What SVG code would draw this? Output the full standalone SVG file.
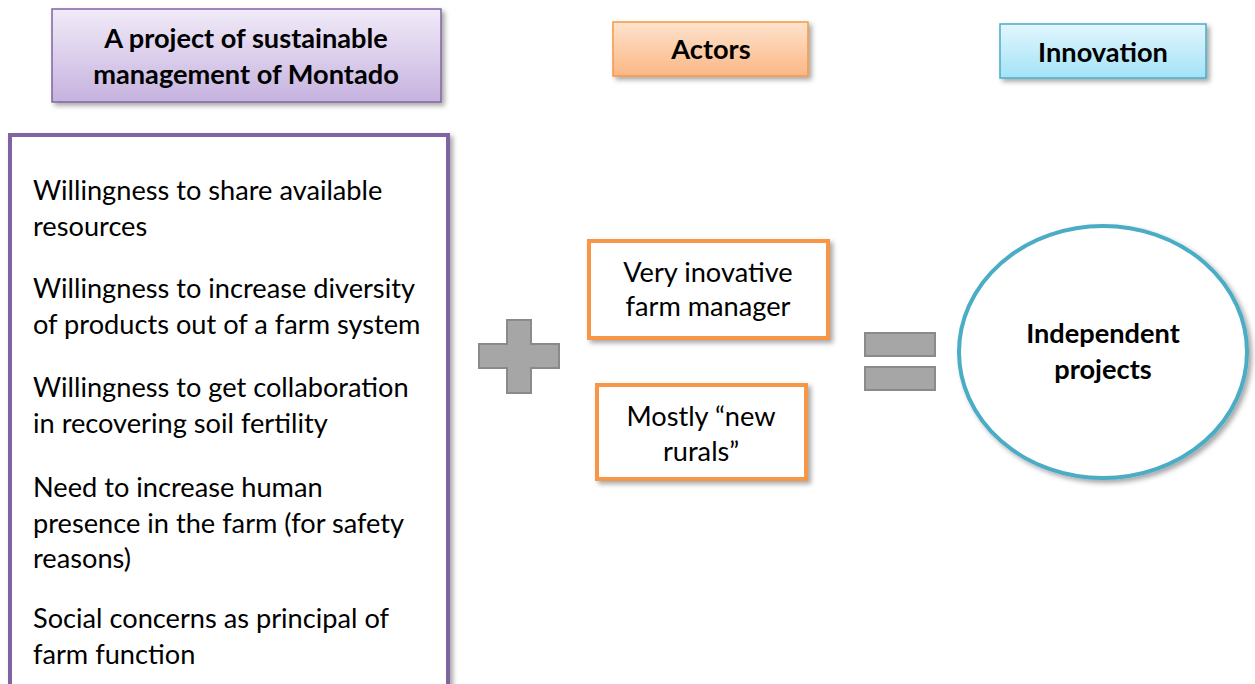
<svg xmlns="http://www.w3.org/2000/svg" width="1255" height="684" viewBox="0 0 1255 684">
<style>
.t{font-family:Lato,"Open Sans","Liberation Sans",sans-serif;font-size:27.2px;fill:#000}
.b{font-weight:bold}
.m{text-anchor:middle}
.op{fill:#a6a6a6;stroke:#8a8a8a;stroke-width:2}
</style>
<defs>
<filter id="sh" x="-10%" y="-10%" width="125%" height="125%">
<feDropShadow dx="3" dy="3" stdDeviation="2.5" flood-color="#000" flood-opacity="0.35"/>
</filter>
<linearGradient id="gp" x1="0" y1="0" x2="0" y2="1"><stop offset="0" stop-color="#f1ebf8"/><stop offset="1" stop-color="#c6b2df"/></linearGradient>
<linearGradient id="go" x1="0" y1="0" x2="0" y2="1"><stop offset="0" stop-color="#fee3cd"/><stop offset="1" stop-color="#fbb785"/></linearGradient>
<linearGradient id="gb" x1="0" y1="0" x2="0" y2="1"><stop offset="0" stop-color="#e2f6fd"/><stop offset="1" stop-color="#a3e3f8"/></linearGradient>
</defs>
<rect width="1255" height="684" fill="#fff"/>
<g id="title">
<rect x="52" y="9" width="389" height="93" fill="url(#gp)" stroke="#8064a2" stroke-width="1.5" filter="url(#sh)"/>
<text class="t b m" x="246" y="48">A project of sustainable</text>
<text class="t b m" x="246" y="84">management of Montado</text>
</g>
<g id="list">
<rect x="10" y="135" width="438" height="570" fill="#fff" stroke="#8064a2" stroke-width="4" filter="url(#sh)"/>
<text class="t" x="33" y="200">Willingness to share available</text>
<text class="t" x="33" y="236">resources</text>
<text class="t" x="33" y="298">Willingness to increase diversity</text>
<text class="t" x="33" y="334">of products out of a farm system</text>
<text class="t" x="33" y="397">Willingness to get collaboration</text>
<text class="t" x="33" y="433">in recovering soil fertility</text>
<text class="t" x="33" y="497">Need to increase human</text>
<text class="t" x="33" y="533">presence in the farm (for safety</text>
<text class="t" x="33" y="568">reasons)</text>
<text class="t" x="33" y="628">Social concerns as principal of</text>
<text class="t" x="33" y="664">farm function</text>
</g>
<g id="actors">
<rect x="613" y="22" width="195" height="54" fill="url(#go)" stroke="#f79646" stroke-width="1.5" filter="url(#sh)"/>
<text class="t b m" x="711" y="59">Actors</text>
</g>
<g id="innovation">
<rect x="1000" y="24" width="206" height="54" fill="url(#gb)" stroke="#4bacc6" stroke-width="1.5" filter="url(#sh)"/>
<text class="t b m" x="1103" y="62">Innovation</text>
</g>
<g id="plus">
<path class="op" d="M507 320H531V344H559V368H531V393H507V368H479V344H507Z"/>
</g>
<g id="actor1">
<rect x="589" y="241" width="239" height="97" fill="#fff" stroke="#f79646" stroke-width="4" filter="url(#sh)"/>
<text class="t m" x="708" y="282">Very inovative</text>
<text class="t m" x="708" y="316">farm manager</text>
</g>
<g id="actor2">
<rect x="597" y="385" width="209" height="94" fill="#fff" stroke="#f79646" stroke-width="4" filter="url(#sh)"/>
<text class="t m" x="701" y="426">Mostly “new</text>
<text class="t m" x="701" y="461">rurals”</text>
</g>
<g id="equals">
<rect class="op" x="865" y="333" width="70" height="23"/>
<rect class="op" x="865" y="367" width="70" height="23"/>
</g>
<g id="result">
<ellipse cx="1103" cy="352" rx="144" ry="126" fill="#fff" stroke="#4bacc6" stroke-width="4" filter="url(#sh)"/>
<text class="t b m" x="1103" y="343">Independent</text>
<text class="t b m" x="1103" y="379">projects</text>
</g>
<g id="connectors"></g>
</svg>
